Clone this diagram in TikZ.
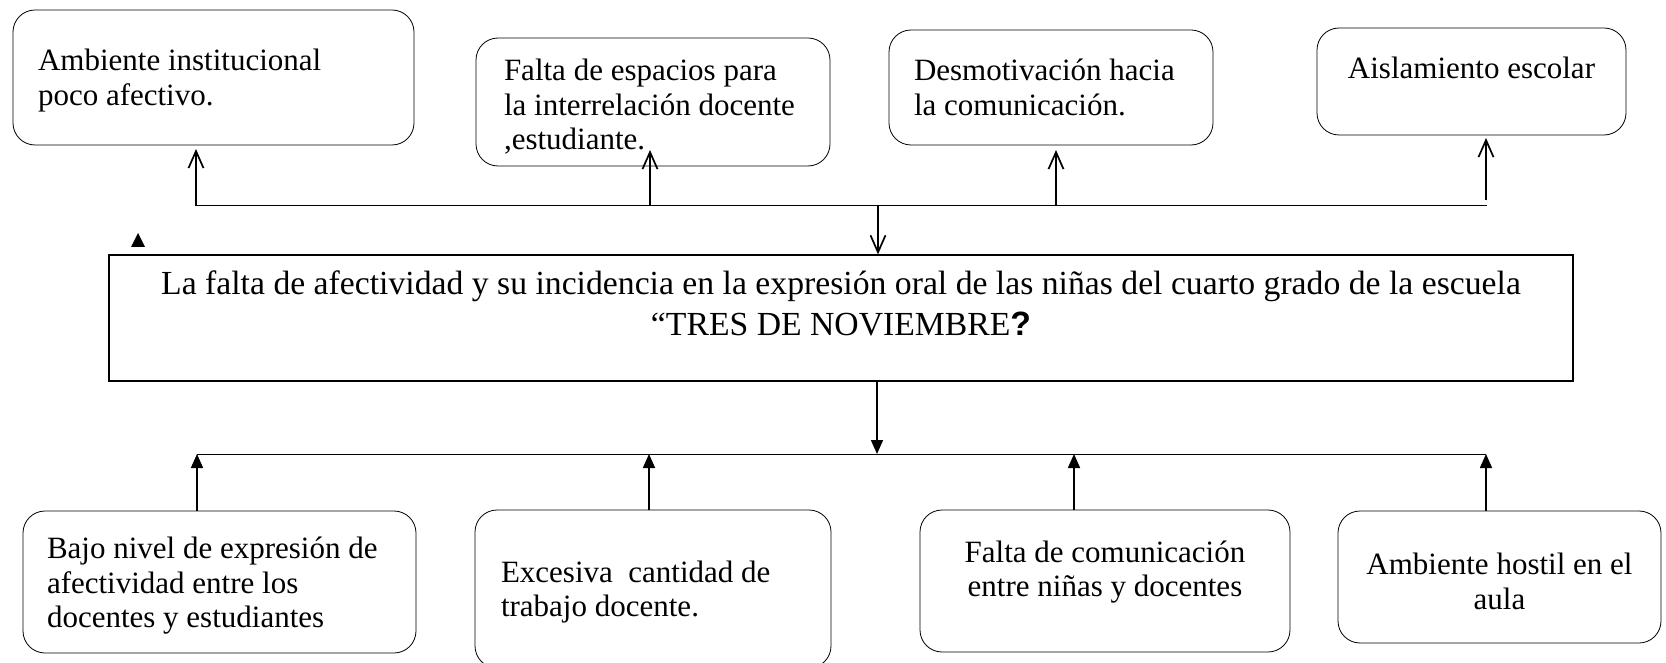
\documentclass[tikz,border=0pt]{standalone}
\usepackage{fontspec}
\setmainfont{Liberation Serif}
\newfontfamily\qmarkfont{Liberation Sans}
\usetikzlibrary{arrows.meta}
\newcommand\boxfont{\fontsize{31}{34.5}\selectfont\lineskiplimit=-20pt\relax}
\newcommand\probfont{\fontsize{33.7}{41}\selectfont\lineskiplimit=-20pt\relax}
\tikzstyle{block} = [rectangle, draw, rounded corners=22pt, line width=0.8pt, inner ysep=0pt, font=\boxfont]
\tikzstyle{problem} = [rectangle, draw, line width=1.2pt, align=center, font=\probfont]
\tikzstyle{bus} = [line width=1pt]
\tikzstyle{openup} = [line width=1.7pt, -{Straight Barb[length=17pt, width=15pt]}]
\tikzstyle{fillup} = [line width=1.6pt, -{Triangle[length=14pt, width=12pt]}]

\begin{document}
\begin{tikzpicture}[x=1pt, y=-1pt]
\clip (0,0) rectangle (1666,663);

% efectos
\node[block, text width=351pt, inner xsep=25pt, minimum height=135pt, align=flush left, text depth=35pt] (eff1) at (213.5,77.5) {Ambiente institucional\\poco afectivo.};
\node[block, text width=298pt, inner xsep=28pt, minimum height=128pt, align=flush left, text depth=64pt] (eff2) at (653,102) {Falta de espacios para\\la interrelación docente\\,estudiante.};
\node[block, text width=274pt, inner xsep=25pt, minimum height=115pt, align=flush left] (eff3) at (1051,87.5) {Desmotivación hacia\\la comunicación.};
\node[block, text width=269pt, inner xsep=20pt, minimum height=107pt, align=flush center, text depth=28pt] (eff4) at (1471.5,81.5) {Aislamiento escolar};

% problema central
\node[problem, minimum width=1464pt, minimum height=126pt, text depth=30pt] (prob) at (841,318) {La falta de afectividad y su incidencia en la expresión oral de las niñas del cuarto grado de la escuela\\“TRES DE NOVIEMBRE{\qmarkfont\bfseries ?}};

% causas
\node[block, text width=345pt, inner xsep=24pt, minimum height=142pt, align=flush left, text depth=68pt] (cause1) at (219.5,582) {Bajo nivel de expresión de\\afectividad entre los\\docentes y estudiantes};
\node[block, text width=304pt, inner xsep=26pt, minimum height=158pt, align=flush left, text depth=35pt] (cause2) at (653,589) {Excesiva \ cantidad de\\trabajo docente.};
\node[block, text width=330pt, inner xsep=20pt, minimum height=142pt, align=flush center, text depth=59pt] (cause3) at (1105,581) {Falta de comunicación\\entre niñas y docentes};
\node[block, text width=283pt, inner xsep=20pt, minimum height=132pt, align=flush center, text depth=26pt] (cause4) at (1499.5,577) {Ambiente hostil en el\\aula};

\fill (131,247) -- (138,233) -- (145,247) -- cycle;

% barra superior
\coordinate (topl) at (196,206);
\coordinate (topr) at (1487,206);
\coordinate (topin) at (878,206);
\coordinate (u2) at (650,206);
\coordinate (u3) at (1056,206);
\coordinate (u4) at (1486,200);
\coordinate (t1) at (196,149);
\coordinate (t2) at (650,150);
\coordinate (t3) at (1056,150);
\coordinate (t4) at (1486,138);
\draw[bus] (topl) -- (topr);
\draw[openup] (topl) -- (t1);
\draw[openup] (u2) -- (t2);
\draw[openup] (u3) -- (t3);
\draw[openup] (u4) -- (t4);
\draw[openup] (topin) -- (topin |- prob.north);

% barra inferior
\coordinate (botl) at (197,454);
\coordinate (botr) at (1486,454);
\coordinate (botin) at (877,454);
\coordinate (d2) at (649,454);
\coordinate (d3) at (1074,454);
\draw[bus] (botl) -- (botr);
\draw[fillup] (botin |- prob.south) -- (botin);
\draw[fillup] (botl |- cause1.north) -- (botl);
\draw[fillup] (d2 |- cause2.north) -- (d2);
\draw[fillup] (d3 |- cause3.north) -- (d3);
\draw[fillup] (botr |- cause4.north) -- (botr);

\end{tikzpicture}
\end{document}
